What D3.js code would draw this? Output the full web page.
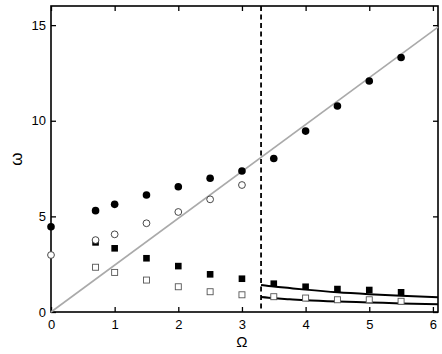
<!DOCTYPE html>
<html>
<head>
<meta charset="utf-8">
<script src="https://cdn.jsdelivr.net/npm/d3@7"></script>
<style>
  body { margin: 0; background: #fff; }
  text { font-family: "Liberation Sans", Arial, sans-serif; }
</style>
</head>
<body>
<div class="canvas"></div>
<script>
// data
const omegaA = [0, 0.7, 1, 1.5, 2, 2.5, 3];
const omegaB = [3.5, 4, 4.5, 5, 5.5];
const omegaSq = [0.7, 1, 1.5, 2, 2.5, 3, 3.5, 4, 4.5, 5, 5.5];

const filledCircles = [4.46, 5.30, 5.63, 6.12, 6.55, 6.99, 7.37];
const filledCirclesB = [8.03, 9.46, 10.77, 12.08, 13.31];
const openCircles = [2.98, 3.76, 4.06, 4.64, 5.23, 5.89, 6.64];
const filledSquares = [3.64, 3.33, 2.81, 2.40, 1.97, 1.74, 1.48, 1.32, 1.20, 1.15, 1.03];
const openSquares = [2.34, 2.07, 1.67, 1.32, 1.06, 0.90, 0.80, 0.73, 0.64, 0.64, 0.56];

const curveX = [3.3, 3.5, 3.75, 4, 4.5, 5, 5.5, 6.08];
const upperCurve = [1.41, 1.33, 1.25, 1.17, 1.03, 0.93, 0.85, 0.77];
const lowerCurve = [0.78, 0.72, 0.67, 0.62, 0.55, 0.50, 0.45, 0.40];

const diagX = [0, 6.08];
const diagY = [0, 14.9];
const criticalOmega = 3.3;

const xTicks = [0, 1, 2, 3, 4, 5, 6];
const yTicks = [0, 5, 10, 15];

const svg = d3.select('.canvas')
  .append('svg')
    .attr('width', 442)
    .attr('height', 354);

const margin = {top: 6, right: 4, bottom: 42, left: 51};
const graphWidth = 442 - margin.left - margin.right;
const graphHeight = 354 - margin.top - margin.bottom;

const graph = svg.append('g')
  .attr('transform', `translate(${margin.left}, ${margin.top})`);

const x = d3.scaleLinear().domain([0, 6.08]).range([0, graphWidth]);
const y = d3.scaleLinear().domain([0, 16]).range([graphHeight, 0]);

// axes with inward ticks
const styleAxis = g => {
  g.select('.domain').remove();
  g.selectAll('line').attr('stroke', '#000').attr('stroke-width', 1.3);
  g.selectAll('text')
    .attr('fill', '#000')
    .style('font-size', '13px');
};

graph.append('g')
  .attr('transform', `translate(0, ${graphHeight})`)
  .call(d3.axisBottom(x).tickValues(xTicks).tickSize(-5).tickPadding(8).tickFormat(d3.format('d')))
  .call(styleAxis);

graph.append('g')
  .call(d3.axisTop(x).tickValues(xTicks).tickSize(-5).tickFormat(''))
  .call(styleAxis);

graph.append('g')
  .call(d3.axisLeft(y).tickValues(yTicks).tickSize(-5).tickPadding(5).tickFormat(d3.format('d')))
  .call(styleAxis);

graph.append('g')
  .attr('transform', `translate(${graphWidth}, 0)`)
  .call(d3.axisRight(y).tickValues(yTicks).tickSize(-5).tickFormat(''))
  .call(styleAxis);

// frame
graph.append('rect')
  .attr('width', graphWidth)
  .attr('height', graphHeight)
  .attr('fill', 'none')
  .attr('stroke', '#000')
  .attr('stroke-width', 1.6);

// grey diagonal
graph.append('line')
  .attr('x1', x(diagX[0])).attr('y1', y(diagY[0]))
  .attr('x2', x(diagX[1])).attr('y2', y(diagY[1]))
  .attr('stroke', '#aaa')
  .attr('stroke-width', 1.6);

// dashed critical line
graph.append('line')
  .attr('x1', x(criticalOmega)).attr('x2', x(criticalOmega))
  .attr('y1', 0).attr('y2', graphHeight)
  .attr('stroke', '#000')
  .attr('stroke-width', 1.8)
  .attr('stroke-dasharray', '5,3.5');

// curves
const line = d3.line()
  .x((d, i) => x(curveX[i]))
  .y(d => y(d))
  .curve(d3.curveMonotoneX);

[upperCurve, lowerCurve].forEach(c => {
  graph.append('path')
    .attr('d', line(c))
    .attr('fill', 'none')
    .attr('stroke', '#000')
    .attr('stroke-width', 2);
});

// markers
const pts = (xs, ys) => xs.map((v, i) => ({x: v, y: ys[i]}));

graph.selectAll('.osq')
  .data(pts(omegaSq, openSquares))
  .enter().append('rect')
    .attr('x', d => x(d.x) - 3)
    .attr('y', d => y(d.y) - 3)
    .attr('width', 6).attr('height', 6)
    .attr('fill', '#fff')
    .attr('stroke', '#555')
    .attr('stroke-width', 0.9);

graph.selectAll('.fsq')
  .data(pts(omegaSq, filledSquares))
  .enter().append('rect')
    .attr('x', d => x(d.x) - 3.3)
    .attr('y', d => y(d.y) - 3.3)
    .attr('width', 6.6).attr('height', 6.6)
    .attr('fill', '#000');

graph.selectAll('.oc')
  .data(pts(omegaA, openCircles))
  .enter().append('circle')
    .attr('cx', d => x(d.x))
    .attr('cy', d => y(d.y))
    .attr('r', 3.4)
    .attr('fill', '#fff')
    .attr('stroke', '#333')
    .attr('stroke-width', 0.9);

graph.selectAll('.fc')
  .data(pts(omegaA.concat(omegaB), filledCircles.concat(filledCirclesB)))
  .enter().append('circle')
    .attr('cx', d => x(d.x))
    .attr('cy', d => y(d.y))
    .attr('r', 3.8)
    .attr('fill', '#000');

// axis labels
svg.append('text')
  .attr('x', margin.left + x(3))
  .attr('y', 347)
  .attr('text-anchor', 'middle')
  .style('font-size', '15px')
  .text('Ω');

svg.append('text')
  .attr('transform', `translate(22, ${margin.top + graphHeight / 2}) rotate(-90)`)
  .attr('text-anchor', 'middle')
  .style('font-size', '17px')
  .text('ω');
</script>
</body>
</html>
